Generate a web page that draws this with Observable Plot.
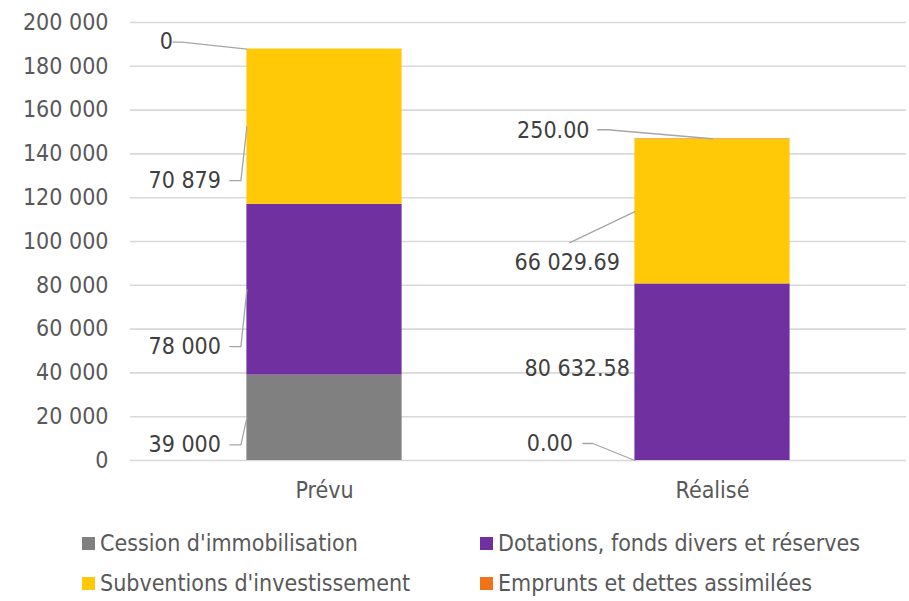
<!DOCTYPE html>
<html>
<head>
<meta charset="utf-8">
<script src="https://cdn.jsdelivr.net/npm/d3@7"></script>
<script src="https://cdn.jsdelivr.net/npm/@observablehq/plot@0.6"></script>
<style>
  html, body { margin: 0; padding: 0; background: #fff; }
  body { width: 909px; height: 601px; overflow: hidden; font-family: "DejaVu Sans Condensed", "DejaVu Sans", sans-serif; font-stretch: condensed; }
  #chart svg { display: block; font-stretch: condensed; }
  .legend { display: flex; flex-wrap: wrap; padding-left: 82px; margin-top: 3px; }
  .legend .item { width: 398px; height: 40px; display: flex; align-items: center; font-size: 23px; color: #595959; white-space: nowrap; }
  .legend .sw { width: 13px; height: 13px; margin-right: 5px; flex: none; }
</style>
</head>
<body>
<div id="chart"></div>
<div class="legend" id="legend"></div>
<script>
// ---- data ----
const categories = ["Prévu", "Réalisé"];
const seriesNames = [
  "Cession d'immobilisation",
  "Dotations, fonds divers et réserves",
  "Subventions d'investissement",
  "Emprunts et dettes assimilées"
];
const prevuValues = [39000, 78000, 70879, 0];
const realiseValues = [0, 80632.58, 66029.69, 250];
const yTicks = [0, 20000, 40000, 60000, 80000, 100000, 120000, 140000, 160000, 180000, 200000];
const legendOrder = [0, 1, 2, 3];

// ---- styles ----
const seriesColors = ["#808080", "#7030A0", "#FFC907", "#F07219"];
const FONT = '"DejaVu Sans Condensed", "DejaVu Sans", sans-serif';
const FS = 23;

// ---- layout (pixel offsets of data labels relative to the point they describe) ----
const labelLayout = [
  {cat: 0, s: 0, anchor: "left-mid", text: [-26, 27], leader: [[-17, 27], [-6, 27]]},
  {cat: 0, s: 1, anchor: "left-mid", text: [-26, 57], leader: [[-17, 57], [-6, 57]]},
  {cat: 0, s: 2, anchor: "left-mid", text: [-26, 54], leader: [[-17, 54], [-6, 54]]},
  {cat: 0, s: 3, anchor: "left-top", text: [-74, -7], leader: [[-74, -7], [-65, -7]]},
  {cat: 1, s: 0, anchor: "left-bottom", text: [-62, -17], leader: [[-52, -17], [-42, -17]]},
  {cat: 1, s: 1, anchor: "left-mid", text: [-5, -4], leader: null},
  {cat: 1, s: 2, anchor: "left-mid", text: [-15, 51], leader: [[-65, 31]]},
  {cat: 1, s: 3, anchor: "center-top", text: [-123, -8], leader: [[-115, -9], [-105, -9]]}
];

const W = 909, H = 520, mL = 130, mR = 3, mT = 22, mB = 60;
const yMax = 200000;
const pxPerX = (W - mL - mR) / 2;
const valPerPx = yMax / (H - mT - mB);
const halfW = 0.2;

const loc = d3.formatLocale({decimal: ".", thousands: "\u00a0", grouping: [3], currency: ["", ""]});
const fmtInt = loc.format(",.0f");
const fmtDec = loc.format(",.2f");
const labelFormats = [fmtInt, fmtDec];

const valuesByCat = [prevuValues, realiseValues];
const rects = [];
valuesByCat.forEach((vals, ci) => {
  let acc = 0;
  vals.forEach((v, si) => {
    rects.push({cat: ci, s: si, x1: ci - halfW, x2: ci + halfW, y1: acc, y2: acc + v, value: v});
    acc += v;
  });
});

const labels = [];
const leaders = [];
labelLayout.forEach((L, k) => {
  const r = rects.find(d => d.cat === L.cat && d.s === L.s);
  const tx = L.anchor.startsWith("left") ? r.x1 : L.cat;
  const ty = L.anchor.endsWith("mid") ? (r.y1 + r.y2) / 2 : L.anchor.endsWith("top") ? r.y2 : r.y1;
  const toX = px => tx + px / pxPerX;
  const toY = py => ty - py * valPerPx;
  labels.push({x: toX(L.text[0]), y: toY(L.text[1]), text: labelFormats[L.cat](r.value)});
  if (L.leader) {
    L.leader.forEach(p => leaders.push({id: k, x: toX(p[0]), y: toY(p[1])}));
    leaders.push({id: k, x: tx, y: ty});
  }
});

const plot = Plot.plot({
  width: W, height: H,
  marginLeft: mL, marginRight: mR, marginTop: mT, marginBottom: mB,
  x: {domain: [-0.5, 1.5], label: null},
  y: {domain: [0, yMax], label: null},
  style: {fontFamily: FONT, fontSize: FS + "px", color: "#595959", background: "white"},
  marks: [
    Plot.gridY({ticks: yTicks, stroke: "#D9D9D9", strokeOpacity: 1, strokeWidth: 1.6}),
    Plot.axisY({ticks: yTicks, tickFormat: fmtInt, tickSize: 0, tickPadding: 22, fontSize: FS, label: null}),
    Plot.axisX({ticks: [0, 1], tickFormat: i => categories[i], tickSize: 0, tickPadding: 21, fontSize: FS, label: null}),
    Plot.rectY(rects, {x1: "x1", x2: "x2", y1: "y1", y2: "y2", fill: d => seriesColors[d.s]}),
    Plot.line(leaders, {x: "x", y: "y", z: "id", stroke: "#A6A6A6", strokeWidth: 1.3}),
    Plot.text(labels, {x: "x", y: "y", text: "text", textAnchor: "end", lineAnchor: "middle", fill: "#404040", fontSize: FS})
  ]
});
document.getElementById("chart").appendChild(plot);

const legend = document.getElementById("legend");
legendOrder.forEach(i => {
  const it = document.createElement("div");
  it.className = "item";
  const sw = document.createElement("span");
  sw.className = "sw";
  sw.style.background = seriesColors[i];
  const tx = document.createElement("span");
  tx.textContent = seriesNames[i];
  it.appendChild(sw); it.appendChild(tx);
  legend.appendChild(it);
});
</script>
</body>
</html>
